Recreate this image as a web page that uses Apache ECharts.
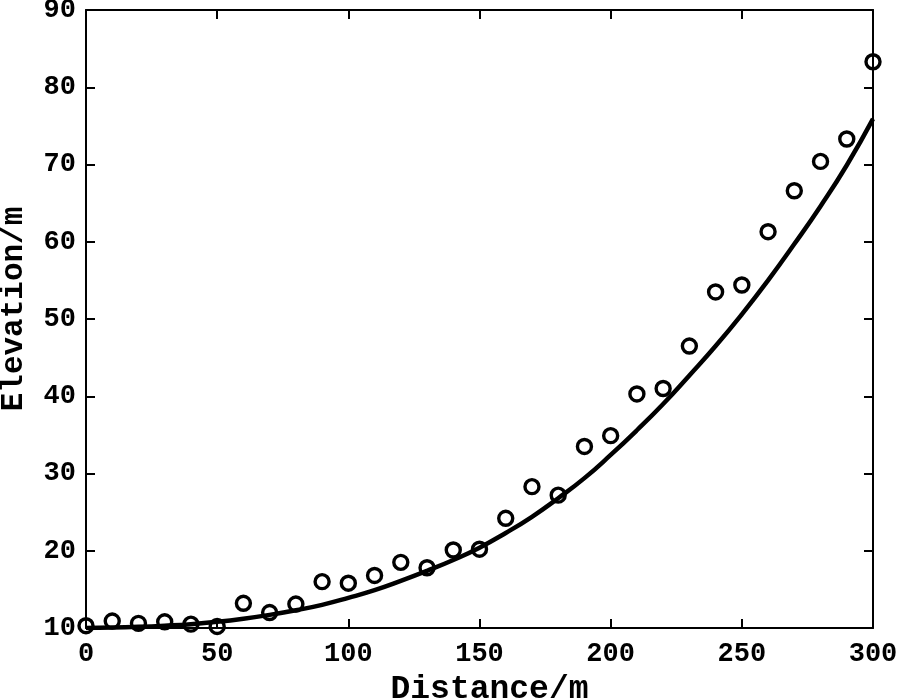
<!DOCTYPE html>
<html>
<head>
<meta charset="utf-8">
<script src="https://cdn.jsdelivr.net/npm/echarts@6/dist/echarts.min.js"></script>
<style>
html,body{margin:0;padding:0;background:#fff;}
#chart{width:898px;height:699px;}
</style>
</head>
<body>
<div id="chart"></div>
<script>
// Observed points
var distance = [0,10,20,30,40,50,60,70,80,90,100,110,120,130,140,150,160,170,180,190,200,210,220,230,240,250,260,270,280,290,300];
var elevation = [10.3,10.9,10.6,10.8,10.5,10.2,13.2,12.0,13.1,16.0,15.8,16.8,18.5,17.8,20.1,20.2,24.2,28.3,27.2,33.5,34.9,40.3,41.0,46.5,53.5,54.4,61.3,66.6,70.4,73.3,83.3];
// Fitted curve
var fitDistance = [0,10,20,30,40,50,60,70,80,90,100,110,120,130,140,150,160,170,180,190,200,210,220,230,240,250,260,270,280,290,300];
var fitElevation = [10.0,10.05,10.15,10.3,10.5,10.8,11.2,11.7,12.3,13.0,13.9,14.9,16.1,17.4,18.8,20.4,22.3,24.4,26.8,29.4,32.4,35.6,39.0,42.7,46.5,50.6,55.0,59.7,64.6,69.9,75.9];
var xTicks = {min:0, max:300, interval:50};
var yTicks = {min:10, max:90, interval:10};

var FONT = '"Liberation Mono", "Courier New", monospace';
var chart = echarts.init(document.getElementById('chart'), null, {renderer:'canvas'});

function pairs(xs, ys){ return xs.map(function(x,i){ return [x, ys[i]]; }); }

var axisLine = {show:true, onZero:false, lineStyle:{color:'#000', width:2}};
var axisTick = {show:true, inside:true, length:9, lineStyle:{color:'#000', width:2}};

chart.setOption({
  animation:false,
  backgroundColor:'#fff',
  grid:{left:86, right:25, top:10, bottom:71, containLabel:false, outerBoundsMode:'none'},
  xAxis:[{
    type:'value', position:'bottom', min:xTicks.min, max:xTicks.max, interval:xTicks.interval,
    name:'Distance/m', nameLocation:'middle', nameGap:44,
    nameTextStyle:{fontFamily:FONT, fontWeight:'bold', fontSize:33, color:'#000', padding:[0,0,0,20]},
    axisLine:axisLine, axisTick:axisTick, splitLine:{show:false},
    axisLabel:{fontFamily:FONT, fontWeight:'bold', fontSize:27, color:'#000', margin:13}
  },{
    type:'value', position:'top', min:xTicks.min, max:xTicks.max, interval:xTicks.interval,
    axisLine:axisLine, axisTick:axisTick, splitLine:{show:false}, axisLabel:{show:false}
  }],
  yAxis:[{
    type:'value', position:'left', min:yTicks.min, max:yTicks.max, interval:yTicks.interval,
    name:'Elevation/m', nameLocation:'middle', nameGap:56,
    nameTextStyle:{fontFamily:FONT, fontWeight:'bold', fontSize:31, color:'#000', padding:[0,0,0,20]},
    axisLine:axisLine, axisTick:axisTick, splitLine:{show:false},
    axisLabel:{fontFamily:FONT, fontWeight:'bold', fontSize:27, color:'#000', margin:10}
  },{
    type:'value', position:'right', min:yTicks.min, max:yTicks.max, interval:yTicks.interval,
    axisLine:axisLine, axisTick:axisTick, splitLine:{show:false}, axisLabel:{show:false}
  }],
  series:[{
    type:'line', data:pairs(fitDistance, fitElevation), smooth:true, showSymbol:false,
    lineStyle:{color:'#000', width:4.5}, z:2
  },{
    type:'scatter', data:pairs(distance, elevation), symbol:'circle', symbolSize:14,
    itemStyle:{color:'transparent', borderColor:'#000', borderWidth:3.4, opacity:1}, z:3
  }]
});
</script>
</body>
</html>
